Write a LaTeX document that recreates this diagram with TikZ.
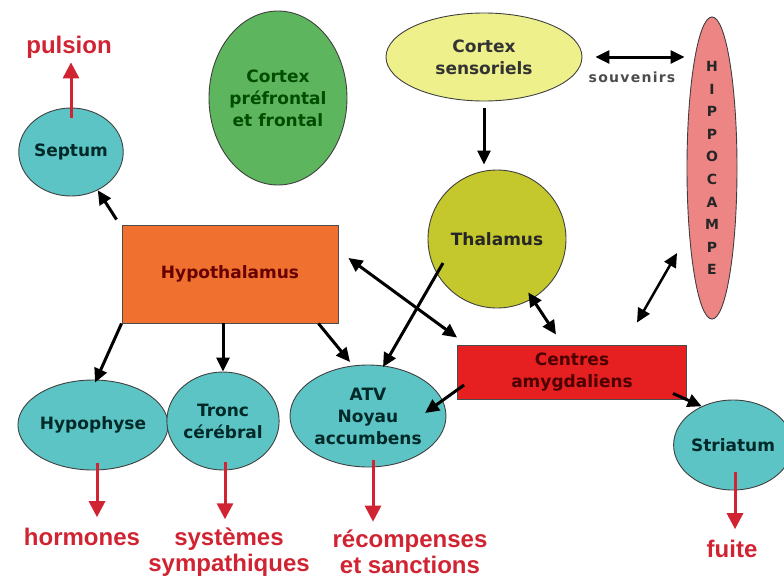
\documentclass[tikz,border=0pt]{standalone}
\usepackage{fontspec}
\setmainfont{DejaVu Sans}
\newfontfamily\etiquette{Liberation Sans}
\newfontfamily\espace{DejaVu Sans}[LetterSpace=9]
\usepackage{xcolor}
\usetikzlibrary{shapes.geometric, arrows.meta, positioning}

\definecolor{turquoise}{HTML}{5CC4C4}
\definecolor{vertcortex}{HTML}{5DB65D}
\definecolor{jaunepale}{HTML}{EEF08C}
\definecolor{olive}{HTML}{C4C82C}
\definecolor{rose}{HTML}{EE8585}
\definecolor{orange}{HTML}{F07030}
\definecolor{rougevif}{HTML}{E62020}
\definecolor{rougetexte}{HTML}{D02432}

\begin{document}
\begin{tikzpicture}[x=1pt, y=-1pt, thick,
		> = {Triangle[length=14pt, width=13pt]},
		zone/.style = {ellipse, draw=black!75, line width=0.9pt, inner sep=0pt, align=center,
			font=\fontsize{17}{22}\selectfont\bfseries},
		noyau/.style = {zone, fill=turquoise, text={black!60!teal!80!black}},
		centre/.style = {rectangle, draw=black!70, line width=0.9pt, inner sep=0pt, align=center,
			font=\fontsize{17}{22}\selectfont\bfseries},
		sortie/.style = {inner sep=0pt, align=center, text=rougetexte,
			font=\etiquette\fontsize{24}{26}\selectfont\bfseries},
		lien/.style = {->, line width=3pt},
		double/.style = {<->, line width=3pt},
		effet/.style = {-{Triangle[length=16pt, width=16pt]}, draw=rougetexte, line width=3pt}]
	\useasboundingbox (0,0) rectangle (784,581);
	
	% structures corticales
	\node [zone, fill=vertcortex, text={green!30!black}, minimum width=138, minimum height=174]
		(prefrontal) at (278,98) {Cortex\\préfrontal\\et frontal};
	\node [zone, fill=jaunepale, text=black!80, minimum width=196, minimum height=88]
		(sensoriels) at (484,57) {Cortex\\sensoriels};
	\node [zone, fill=rose, text=black!85, minimum width=50, minimum height=296,
		font=\fontsize{14}{22.6}\selectfont\bfseries]
		(hippo) at (712,168) {H\\I\\P\\P\\O\\C\\A\\M\\P\\E};
	\node [zone, circle, fill=olive, text=black!85, minimum size=138]
		(thal) at (497,239) {Thalamus};
	
	% centres
	\node [centre, fill=orange, text={red!40!black}, minimum width=216, minimum height=98]
		(hypo) at (230,274) {Hypothalamus};
	\node [centre, fill=rougevif, text={red!30!black}, minimum width=229, minimum height=54]
		(amyg) at (572,372) {Centres\\amygdaliens};
	
	% noyaux
	\node [noyau, minimum width=102, minimum height=88] (septum) at (71,152) {Septum};
	\node [noyau, minimum width=146, minimum height=90] (hypophyse) at (93,425) {Hypophyse};
	\node [noyau, minimum width=96, minimum height=98] (tronc) at (223,421) {Tronc\\cérébral};
	\node [noyau, minimum width=156, minimum height=102] (atv) at (368,416) {ATV\\Noyau\\accumbens};
	\node [noyau, minimum width=94, minimum height=90] (striatum) at (733,445) {Striatum};
	
	% effets
	\node [sortie, anchor=base] (pulsion) at (69,53) {pulsion};
	\node [sortie, anchor=base] (hormones) at (82,545) {hormones};
	\node [sortie] (systemes) at (229,552) {systèmes\\sympathiques};
	\node [sortie] (recompenses) at (410,552) {récompenses\\et sanctions};
	\node [sortie, anchor=base] (fuite) at (732,557) {fuite};
	
	% connexions
	\draw [lien] ([shift={(-5,-5)}]hypo.north west) -- (septum.305);
	\draw [lien] ([yshift=-7pt]sensoriels.south) -- ([yshift=5pt]sensoriels.south |- thal.north);
	\draw [double] ([xshift=13pt]sensoriels.east) -- ([xshift=-2pt]hippo.west |- sensoriels.east)
		node [midway, below=10pt, xshift=-8pt, text=black!70, font=\espace\fontsize{14}{16}\selectfont\bfseries] (souvenirs) {souvenirs};
	\draw [double] ([shift={(10,-16)}]hypo.east) -- ([shift={(0,-7)}]amyg.north west);
	\draw [double] ([shift={(3,-10)}]thal.-66) -- ([shift={(-16,-10)}]amyg.north);
	\draw [double, line width=2.5pt] ([shift={(-35,85)}]hippo.center) -- ([shift={(65,-22)}]amyg.north);
	\draw [lien] ([shift={(-54,24)}]thal.center) -- ([shift={(15,-49)}]atv.center);
	\draw [lien] ([xshift=-20pt]hypo.south east) -- ([shift={(-18,-54)}]atv.center);
	\draw [lien] (hypo.south west) -- ([shift={(2,3)}]hypophyse.north);
	\draw [lien] (tronc.north |- hypo.south) -- (tronc.north);
	\draw [lien] ([shift={(7,13)}]amyg.west) -- ([shift={(57,-3)}]atv.center);
	\draw [lien] ([shift={(-14,-6)}]amyg.south east) -- (striatum.129);
	
	% sorties
	\draw [effet] ([yshift=-10pt]septum.north) -- ([yshift=-4pt]septum.north |- pulsion.south);
	\draw [effet] ([shift={(4,-7)}]hypophyse.south) -- ([shift={(4,-10)}]hypophyse.south |- hormones.north);
	\draw [effet] ([shift={(2,-8)}]tronc.south) -- ([shift={(2,-8)}]tronc.south |- systemes.north);
	\draw [effet] ([shift={(5,-7)}]atv.south) -- ([shift={(5,-8)}]atv.south |- recompenses.north);
	\draw [effet] ([shift={(2,-18)}]striatum.south) -- ([shift={(2,-10)}]striatum.south |- fuite.north);
\end{tikzpicture}
\end{document}
